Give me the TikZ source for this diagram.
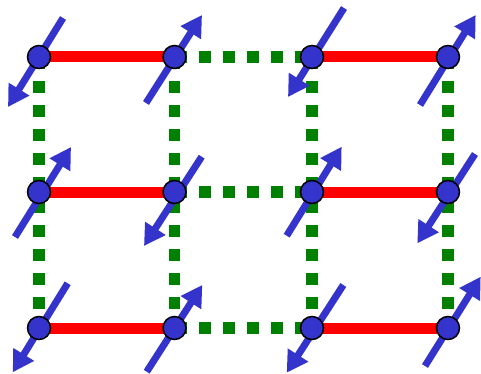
\documentclass[tikz,border=0pt]{standalone}
\usetikzlibrary{arrows.meta}
\definecolor{spinblue}{RGB}{52,52,204}
\definecolor{bondred}{RGB}{255,0,0}
\definecolor{bondgreen}{RGB}{0,128,0}
\pgfdeclarelayer{bonds}
\pgfdeclarelayer{spins}
\pgfsetlayers{bonds,spins,main}
\tikzset{
  site/.style={circle, draw=black, line width=1.5pt, fill=spinblue, minimum size=23pt, inner sep=0pt},
  strongbond/.style={draw=bondred, line width=11pt},
  weakbond/.style={draw=bondgreen, line width=11.5pt, dash pattern=on 12pt off 12pt},
  spin/.style={draw=spinblue, line width=7pt, -{Triangle[length=21pt,width=23pt]}}
}
\begin{document}
\begin{tikzpicture}[x=1pt,y=-1pt]
\useasboundingbox (0,0) rectangle (481,374);
% sites
\foreach \r/\yy in {0/57,1/192,2/328}{
  \foreach \c/\xx in {0/39,1/174.5,2/312,3/448}{
    \node[site] (n\r\c) at (\xx,\yy) {};
  }
}
\begin{pgfonlayer}{bonds}
  % green dotted bonds
  \foreach \c in {0,1,2,3}{
    \draw[weakbond] (n0\c.center) -- (n2\c.center);
  }
  \foreach \r in {0,1,2}{
    \draw[weakbond] (n\r1.center) -- (n\r2.center);
    \draw[strongbond] (n\r0.center) -- (n\r1.center);
    \draw[strongbond] (n\r2.center) -- (n\r3.center);
  }
\end{pgfonlayer}
\begin{pgfonlayer}{spins}
  % row 0
  \draw[spin] (63,18) -- (8,107);
  \draw[spin] (146,103) -- (202,15);
  \draw[spin] (344,8) -- (288,97);
  \draw[spin] (420,105) -- (475.7,15);
  % row 1
  \draw[spin] (15,237) -- (71,147);
  \draw[spin] (201.7,156.7) -- (144,246);
  \draw[spin] (286.7,235.7) -- (341.7,146.7);
  \draw[spin] (475,154) -- (417.3,243.3);
  % row 2
  \draw[spin] (67.7,283.3) -- (12.7,372.3);
  \draw[spin] (146.7,371.7) -- (202.3,285);
  \draw[spin] (343.3,285) -- (286.7,372.7);
  \draw[spin] (425,366) -- (480.7,276.7);
\end{pgfonlayer}
\end{tikzpicture}
\end{document}
